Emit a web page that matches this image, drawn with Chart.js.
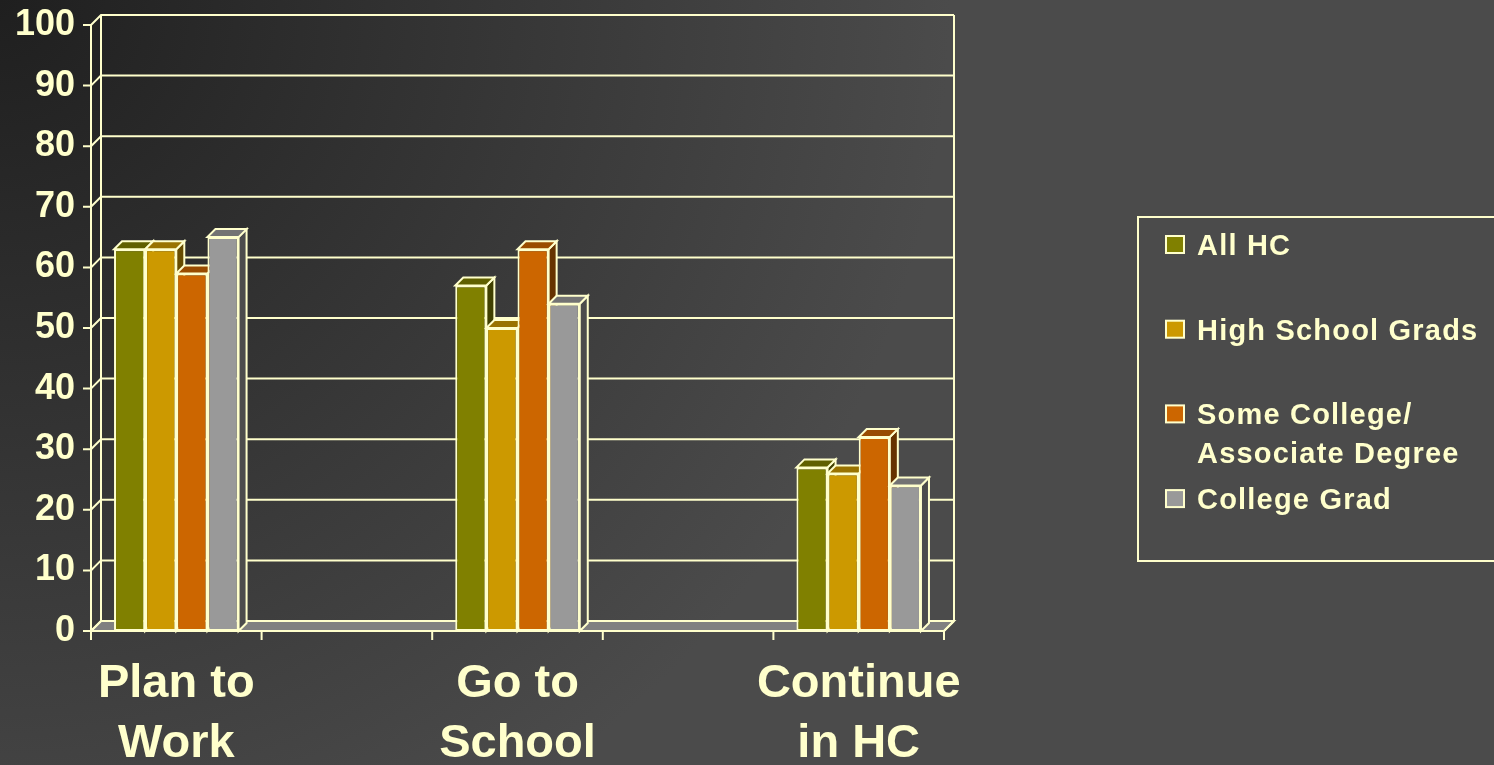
<!DOCTYPE html>
<html>
<head>
<meta charset="utf-8">
<script src="https://cdn.jsdelivr.net/npm/chart.js@4/dist/chart.umd.min.js"></script>
<style>
html,body{margin:0;padding:0;background:#3a3a3a;overflow:hidden}
canvas{display:block}
</style>
</head>
<body>
<canvas id="c" width="1494" height="765"></canvas>
<script>
// ---- data ----
const categories = [['Plan to', 'Work'], ['Go to', 'School'], ['Continue', 'in HC']];
const seriesNames = [['All HC'], ['High School Grads'], ['Some College/', 'Associate Degree'], ['College Grad']];
const allHC = [63, 57, 27];
const highSchoolGrads = [63, 50, 26];
const someCollege = [59, 63, 32];
const collegeGrad = [65, 54, 24];
const yTickValues = [0, 10, 20, 30, 40, 50, 60, 70, 80, 90, 100];

// ---- styles ----
const CREAM = '#FFFFCC';
const FRONT = ['#808000', '#CC9900', '#CC6600', '#999999'];
const TOP = ['#606000', '#997300', '#994C00', '#737373'];
const SIDE = ['#404000', '#664C00', '#663300', '#4C4C4C'];
const FONT = "'Liberation Sans', Arial, sans-serif";
const WALL_DEPTH = 10;
const BAR_DEPTH = 8;

const seriesValues = [allHC, highSchoolGrads, someCollege, collegeGrad];

const datasets = seriesValues.map((vals, j) => ({
  label: seriesNames[j].join(' '),
  data: vals.map((v, i) => ({ x: i, y: v })),
  backgroundColor: FRONT[j],
  borderColor: CREAM,
  borderWidth: 2,
  borderSkipped: false,
  categoryPercentage: 0.365,
  barPercentage: 1
}));

function poly(ctx, pts, fill) {
  ctx.beginPath();
  ctx.moveTo(pts[0][0], pts[0][1]);
  for (let k = 1; k < pts.length; k++) ctx.lineTo(pts[k][0], pts[k][1]);
  ctx.closePath();
  if (fill) { ctx.fillStyle = fill; ctx.fill(); }
  ctx.stroke();
}

function noPad(s) {
  s.paddingTop = 0; s.paddingBottom = 0; s.paddingLeft = 0; s.paddingRight = 0;
}

const threeD = {
  id: 'threeD',
  beforeDraw(chart) {
    const ctx = chart.ctx;
    const g = ctx.createRadialGradient(0, 0, 0, 0, 0, 950);
    g.addColorStop(0, '#1f1f1f');
    g.addColorStop(1, '#4b4b4b');
    ctx.save();
    ctx.fillStyle = g;
    ctx.fillRect(0, 0, chart.width, chart.height);
    ctx.restore();
  },
  beforeDatasetsDraw(chart) {
    const ctx = chart.ctx;
    const { left, right, top, bottom } = chart.chartArea;
    const xs = chart.scales.x, ys = chart.scales.y;
    const D = WALL_DEPTH;
    ctx.save();
    ctx.lineWidth = 2;
    ctx.strokeStyle = CREAM;
    ctx.lineJoin = 'miter';
    // floor
    poly(ctx, [[left, bottom], [right, bottom], [right + D, bottom - D], [left + D, bottom - D]], '#808080');
    // gridlines: front tick, left-wall diagonal, back-wall line
    ys.ticks.forEach(t => {
      const py = ys.getPixelForValue(t.value);
      ctx.beginPath();
      ctx.moveTo(left - 8, py);
      ctx.lineTo(left, py);
      ctx.lineTo(left + D, py - D);
      ctx.lineTo(right + D, py - D);
      ctx.stroke();
    });
    // wall verticals
    ctx.beginPath();
    ctx.moveTo(left, top); ctx.lineTo(left, bottom);
    ctx.moveTo(left + D, top - D); ctx.lineTo(left + D, bottom - D);
    ctx.moveTo(right + D, top - D); ctx.lineTo(right + D, bottom - D);
    ctx.stroke();
    // x tick marks
    ctx.beginPath();
    for (let v = xs.min; v <= xs.max + 1e-6; v += 0.5) {
      const px = xs.getPixelForValue(v);
      ctx.moveTo(px, bottom);
      ctx.lineTo(px, bottom + 9);
    }
    ctx.stroke();

    // bars, painted left to right
    const metas = chart.data.datasets.map((d, j) => chart.getDatasetMeta(j));
    const n = chart.data.datasets[0].data.length;
    for (let i = 0; i < n; i++) {
      metas.forEach((meta, j) => {
        const el = meta.data[i];
        const p = el.getProps(['x', 'y', 'base', 'width'], true);
        const x0 = p.x - p.width / 2, x1 = p.x + p.width / 2;
        const d = BAR_DEPTH;
        ctx.lineWidth = 2;
        ctx.strokeStyle = CREAM;
        poly(ctx, [[x1, p.y], [x1 + d, p.y - d], [x1 + d, p.base - d], [x1, p.base]], SIDE[j]);
        poly(ctx, [[x0, p.y], [x1, p.y], [x1 + d, p.y - d], [x0 + d, p.y - d]], TOP[j]);
        el.draw(ctx);
      });
    }
    // front floor edge
    ctx.lineWidth = 2;
    ctx.strokeStyle = CREAM;
    ctx.beginPath();
    ctx.moveTo(left, bottom); ctx.lineTo(right, bottom); ctx.lineTo(right + D, bottom - D);
    ctx.stroke();
    ctx.restore();
    return false;
  },
  afterDraw(chart) {
    const ctx = chart.ctx;
    ctx.save();
    ctx.lineWidth = 2;
    ctx.strokeStyle = CREAM;
    ctx.strokeRect(1138, 217, 380, 344);
    ctx.font = 'bold 29px ' + FONT;
    if ('letterSpacing' in ctx) ctx.letterSpacing = '1.2px';
    ctx.textBaseline = 'alphabetic';
    ctx.textAlign = 'left';
    chart.data.datasets.forEach((ds, j) => {
      const topY = 235 + 84.7 * j;
      ctx.fillStyle = ds.backgroundColor;
      ctx.fillRect(1166, topY + 1, 18, 17);
      ctx.strokeRect(1166, topY + 1, 18, 17);
      ctx.fillStyle = CREAM;
      seriesNames[j].forEach((line, k) => {
        ctx.fillText(line, 1197, topY + 20 + k * 38.5);
      });
    });
    ctx.restore();
  }
};

new Chart(document.getElementById('c'), {
  type: 'bar',
  data: { datasets },
  options: {
    responsive: false,
    animation: false,
    events: [],
    layout: { padding: { left: 0, top: 25, right: 550, bottom: 0 } },
    plugins: { legend: { display: false }, tooltip: { enabled: false } },
    scales: {
      x: {
        type: 'linear',
        offset: false,
        min: -0.25,
        max: 2.25,
        grid: { display: false, drawTicks: false },
        border: { display: false },
        afterBuildTicks: s => { s.ticks = categories.map((c, i) => ({ value: i })); },
        afterFit: s => { s.height = 134; noPad(s); },
        ticks: {
          autoSkip: false,
          maxRotation: 0,
          minRotation: 0,
          padding: 23,
          color: CREAM,
          font: { family: FONT, size: 47, weight: 'bold', lineHeight: '60px' },
          callback: v => categories[v]
        }
      },
      y: {
        min: 0,
        max: 100,
        grid: { display: false, drawTicks: false },
        border: { display: false },
        afterBuildTicks: s => { s.ticks = yTickValues.map(v => ({ value: v })); },
        afterFit: s => { s.width = 91; noPad(s); },
        ticks: {
          padding: 16,
          color: CREAM,
          font: { family: FONT, size: 36, weight: 'bold' },
          callback: v => String(v)
        }
      }
    }
  },
  plugins: [threeD]
});
</script>
</body>
</html>
